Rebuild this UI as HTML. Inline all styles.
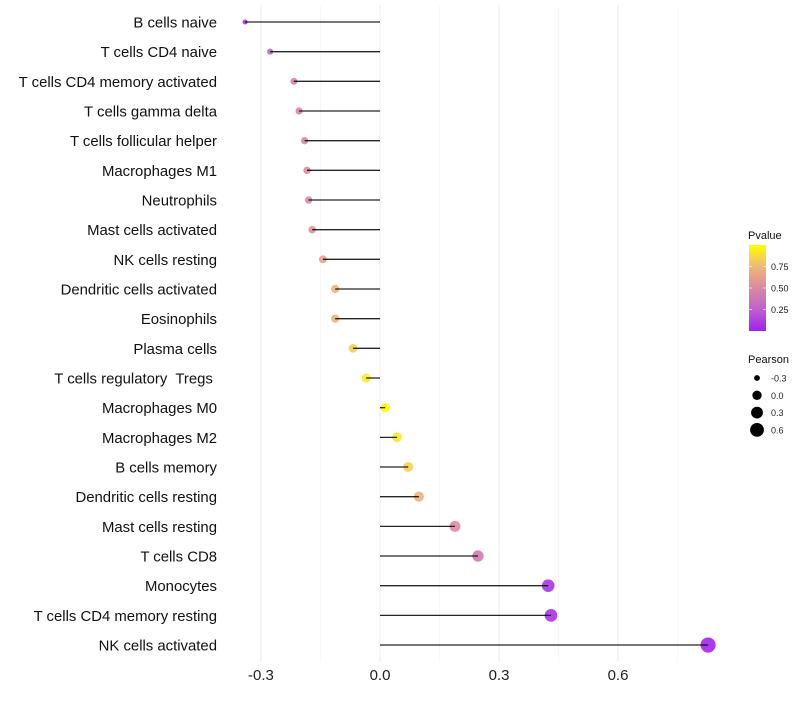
<!DOCTYPE html>
<html><head><meta charset="utf-8"><style>
body{margin:0;background:#fff;font-family:"Liberation Sans",sans-serif}
text{white-space:pre}
</style></head><body>
<svg id="chart" width="800" height="700" xmlns="http://www.w3.org/2000/svg">
<defs><linearGradient id="pg" x1="0" y1="1" x2="0" y2="0">
<stop offset="0" stop-color="#a020f0"/><stop offset="0.25" stop-color="#c060d0"/><stop offset="0.5" stop-color="#d98aa0"/><stop offset="0.75" stop-color="#efb878"/><stop offset="1" stop-color="#ffff00"/></linearGradient></defs>
<g id="grid"></g><g id="points"></g><g id="marks"></g><g id="labels"></g><g id="legend"></g>
</svg>
<script>
const categories=["B cells naive","T cells CD4 naive","T cells CD4 memory activated","T cells gamma delta","T cells follicular helper","Macrophages M1","Neutrophils","Mast cells activated","NK cells resting","Dendritic cells activated","Eosinophils","Plasma cells","T cells regulatory  Tregs ","Macrophages M0","Macrophages M2","B cells memory","Dendritic cells resting","Mast cells resting","T cells CD8","Monocytes","T cells CD4 memory resting","NK cells activated"];
const pearson=[-0.34,-0.277,-0.217,-0.204,-0.19,-0.184,-0.18,-0.171,-0.144,-0.113,-0.113,-0.068,-0.035,0.013,0.043,0.071,0.098,0.189,0.247,0.424,0.431,0.827];
const pvalues=[0.08,0.3,0.42,0.45,0.48,0.5,0.5,0.52,0.63,0.72,0.72,0.83,0.93,0.98,0.92,0.83,0.73,0.5,0.4,0.08,0.07,0.02];
const xTicks=[-0.3,0,0.3,0.6];
const xTickLabels=["-0.3","0.0","0.3","0.6"];
const minorTicks=[-0.15,0.15,0.45,0.75];
const pTicks=[0.25,0.5,0.75];
const pTickLabels=["0.25","0.50","0.75"];
const sizeTicks=[-0.3,0,0.3,0.6];
const sizeTickLabels=["-0.3","0.0","0.3","0.6"];

const NS="http://www.w3.org/2000/svg";
const xS=v=>380+v*396.7;
const yS=i=>22+i*29.667;
const rS=v=>Math.sqrt(Math.max(2,18.25+40*v))+0.4;
const stops=[[0,[160,32,240]],[0.25,[192,96,208]],[0.5,[222,140,160]],[0.75,[239,184,120]],[1,[255,255,0]]];
function col(p){for(let k=0;k<stops.length-1;k++){const a=stops[k],b=stops[k+1];if(p<=b[0]){const t=(p-a[0])/(b[0]-a[0]);return `rgb(${a[1].map((c,j)=>Math.round(c+(b[1][j]-c)*t)).join(",")})`;}}return "rgb(255,255,0)";}
function mk(tag,at,parent){const e=document.createElementNS(NS,tag);for(const k in at)e.setAttribute(k,at[k]);parent.appendChild(e);return e;}
const grid=document.getElementById("grid"),marks=document.getElementById("marks"),points=document.getElementById("points"),labels=document.getElementById("labels"),legend=document.getElementById("legend");
minorTicks.forEach(v=>{const l=mk("line",{x1:xS(v),x2:xS(v),y1:5,y2:662,stroke:"#f3f3f3","stroke-width":0.6},grid);

});
xTicks.forEach((v,i)=>{const l=mk("line",{x1:xS(v),x2:xS(v),y1:5,y2:662,stroke:"#ebebeb","stroke-width":1},grid);


const t=mk("text",{x:xS(v),y:680,"text-anchor":"middle","font-size":15,fill:"#222"},labels);t.textContent=xTickLabels[i];

});
categories.forEach((c,i)=>{const y=yS(i);
const t=mk("text",{x:217,y:y+5.5,"text-anchor":"end","font-size":14.9,fill:"#111"},labels);t.textContent=c;


const p=mk("circle",{cx:xS(pearson[i]),cy:y,r:rS(pearson[i]),fill:col(pvalues[i]),"fill-opacity":0.9},points);


const l=mk("line",{x1:xS(0),x2:xS(pearson[i]),y1:y,y2:y,stroke:"#000","stroke-width":1.3,"stroke-opacity":0.85},marks);

});
let t=mk("text",{x:748,y:239,"font-size":11,fill:"#111"},legend);t.textContent="Pvalue";


const bar=mk("rect",{x:749,y:245,width:17,height:86,fill:"url(#pg)"},legend);


const pY=p=>331-p*86;
pTicks.forEach((p,i)=>{mk("line",{x1:749,x2:752,y1:pY(p),y2:pY(p),stroke:"#fff","stroke-opacity":0.6},legend);mk("line",{x1:763,x2:766,y1:pY(p),y2:pY(p),stroke:"#fff","stroke-opacity":0.6},legend);
const tt=mk("text",{x:771,y:pY(p)+3.5,"font-size":9,fill:"#222"},legend);tt.textContent=pTickLabels[i];

});
t=mk("text",{x:748,y:363,"font-size":11,fill:"#111"},legend);t.textContent="Pearson";


sizeTicks.forEach((v,i)=>{const y=378+i*17.3;
const c=mk("circle",{cx:757,cy:y,r:rS(v),fill:"#000"},legend);


const tt=mk("text",{x:771,y:y+3.5,"font-size":9,fill:"#222"},legend);tt.textContent=sizeTickLabels[i];

});
</script>
</body></html>
